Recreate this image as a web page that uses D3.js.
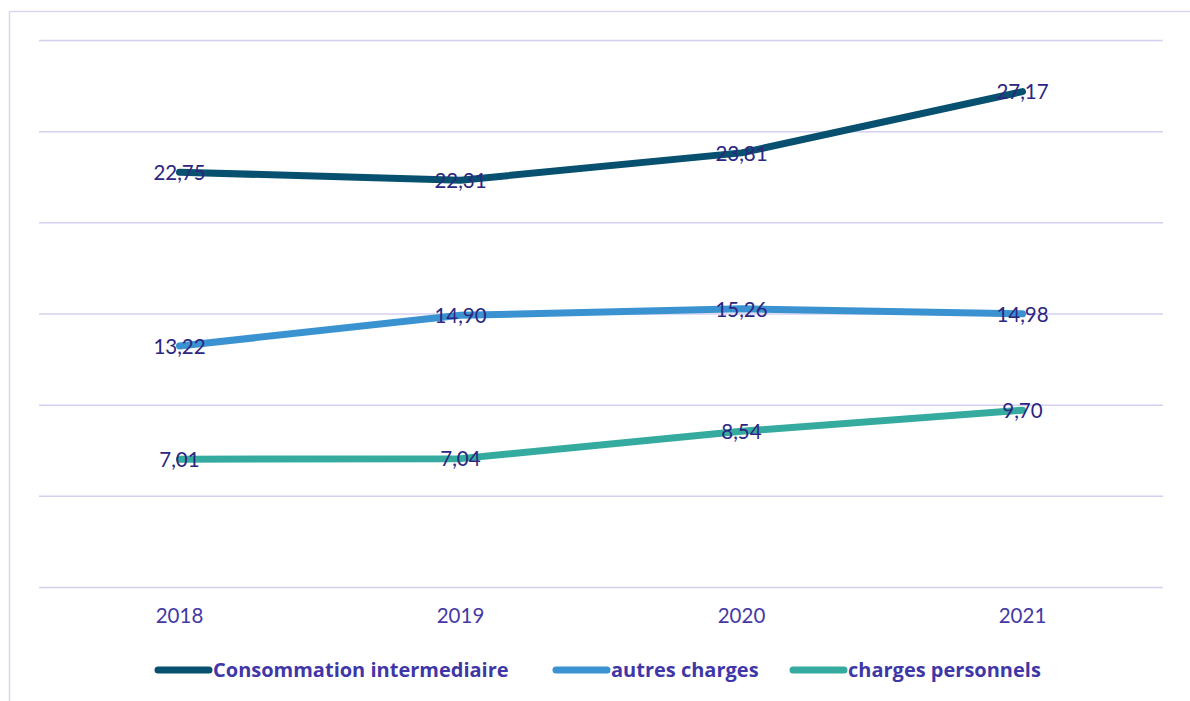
<!DOCTYPE html>
<html>
<head>
<meta charset="utf-8">
<script src="https://cdn.jsdelivr.net/npm/d3@7"></script>
<style>
  body { margin: 0; background: #fff; }
  svg { display: block; font-family: Lato, "Open Sans", sans-serif; }
</style>
</head>
<body>
<div id="chart"></div>
<script>
const years = ["2018", "2019", "2020", "2021"]
const consommation = [22.75, 22.31, 23.81, 27.17]
const autresCharges = [13.22, 14.90, 15.26, 14.98]
const chargesPersonnels = [7.01, 7.04, 8.54, 9.70]
const seriesNames = ["Consommation intermediaire", "autres charges", "charges personnels"]
const yTicks = [0, 5, 10, 15, 20, 25, 30]

const width = 1190, height = 701
const margin = { top: 40, right: 27, bottom: 114, left: 39 }

const series = [
  { name: seriesNames[0], values: consommation, color: "#07506f" },
  { name: seriesNames[1], values: autresCharges, color: "#3a93d0" },
  { name: seriesNames[2], values: chargesPersonnels, color: "#35ab9f" }
]

const svg = d3.select("#chart")
  .append("svg")
  .attr("width", width)
  .attr("height", height)

// chart area frame
svg.append("rect")
  .attr("x", 9.5)
  .attr("y", 11.5)
  .attr("width", width + 20)
  .attr("height", height + 20)
  .attr("fill", "none")
  .attr("stroke", "#d9d6f2")
  .attr("stroke-width", 1.5)

let x = d3.scaleBand()
  .domain(years)
  .range([margin.left, width - margin.right])

let y = d3.scaleLinear()
  .domain([0, 30])
  .range([height - margin.bottom, margin.top])

// gridlines
svg.append("g")
  .attr("transform", "translate(" + margin.left + ",0)")
  .call(d3.axisLeft(y)
    .tickValues(yTicks)
    .tickSize(-(width - margin.left - margin.right))
    .tickFormat(""))
  .call(g => g.select(".domain").remove())
  .call(g => g.selectAll("line").attr("stroke", "#d4d0ef").attr("stroke-width", 1.5))

// x axis labels
svg.append("g")
  .attr("transform", "translate(0," + (height - margin.bottom) + ")")
  .call(d3.axisBottom(x).tickSize(0).tickPadding(21))
  .call(g => g.select(".domain").remove())
  .call(g => g.selectAll("text")
    .attr("font-size", "20.5px")
    .attr("font-family", "Lato, sans-serif")
    .attr("fill", "#443aa6"))

let line = d3.line()
  .x((d, i) => x(years[i]) + x.bandwidth() / 2)
  .y(d => y(d))

svg.append("g")
  .selectAll("path")
  .data(series)
  .enter()
  .append("path")
  .attr("d", d => line(d.values))
  .attr("fill", "none")
  .attr("stroke", d => d.color)
  .attr("stroke-width", 7)
  .attr("stroke-linecap", "round")
  .attr("stroke-linejoin", "round")

// value labels
const fmt = v => v.toFixed(2).replace(".", ",")
series.forEach(s => {
  svg.append("g")
    .selectAll("text")
    .data(s.values)
    .enter()
    .append("text")
    .attr("x", (d, i) => x(years[i]) + x.bandwidth() / 2)
    .attr("y", d => y(d))
    .attr("dy", "0.38em")
    .attr("text-anchor", "middle")
    .attr("font-size", "20.5px")
    .attr("fill", "#2d2680")
    .text(d => fmt(d))
})

// legend
const legendX = [155, 553, 790]
const legend = svg.append("g")
  .selectAll("g")
  .data(series)
  .enter()
  .append("g")
  .attr("transform", (d, i) => "translate(" + legendX[i] + ",670)")

legend.append("line")
  .attr("x1", 3)
  .attr("x2", 54)
  .attr("stroke", d => d.color)
  .attr("stroke-width", 7)
  .attr("stroke-linecap", "round")

legend.append("text")
  .attr("x", 58)
  .attr("dy", "0.36em")
  .attr("font-size", "20px")
  .attr("font-family", "'Open Sans', sans-serif")
  .attr("font-weight", "bold")
  .attr("fill", "#3f37a8")
  .text(d => d.name)
</script>
</body>
</html>
